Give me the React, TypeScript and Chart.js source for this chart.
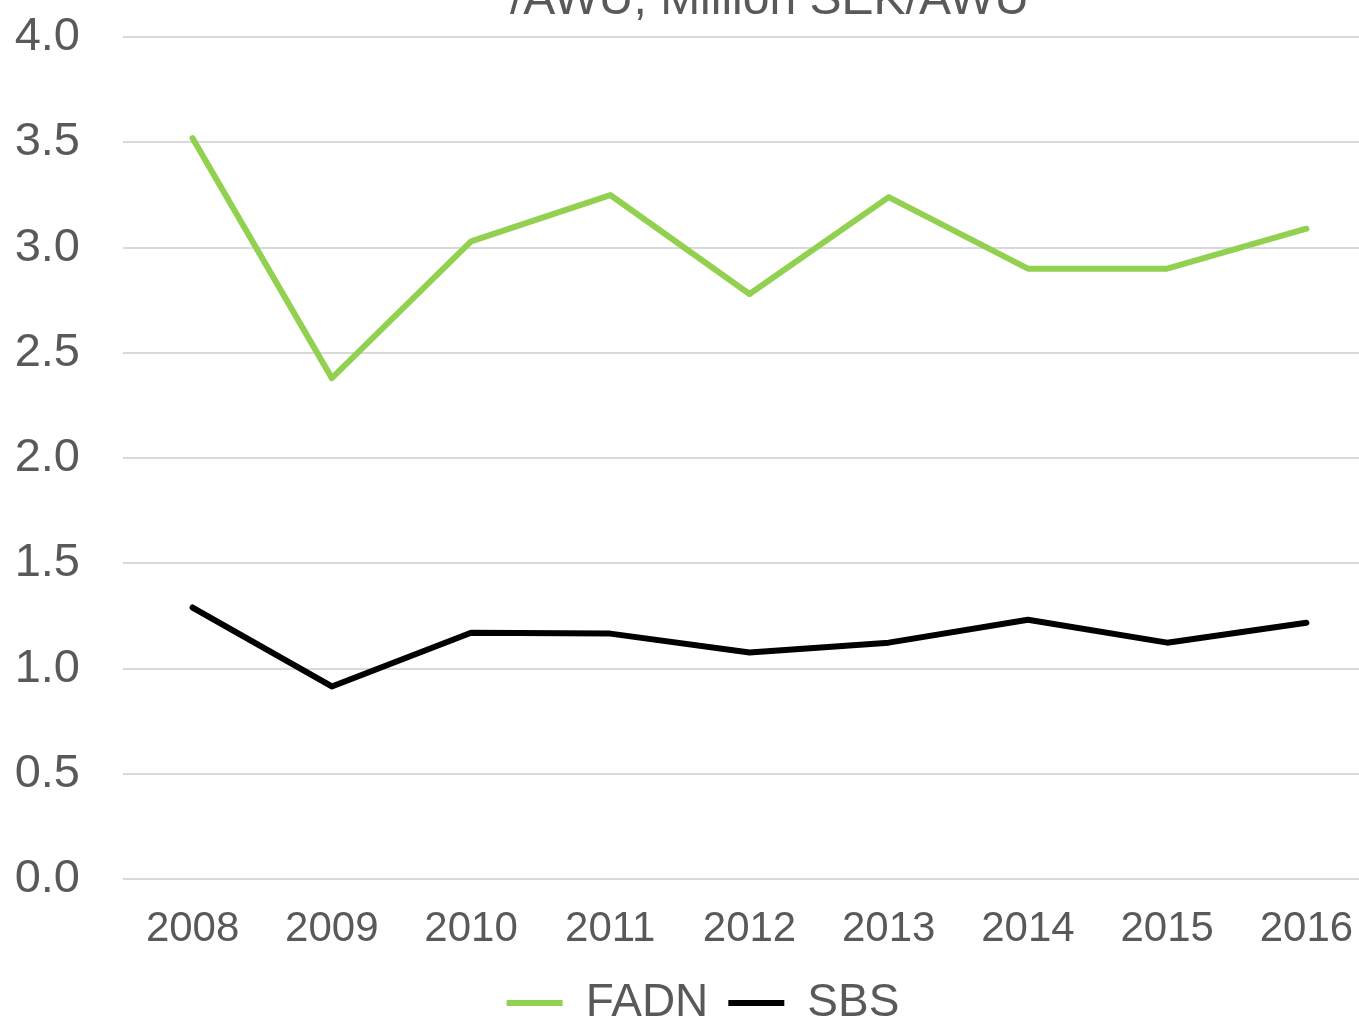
import React, { useEffect, useRef } from "react";
import { Chart, registerables } from "chart.js";

Chart.register(...registerables);

const years = ["2008", "2009", "2010", "2011", "2012", "2013", "2014", "2015", "2016"];
const fadn = [3.52, 2.38, 3.03, 3.25, 2.78, 3.24, 2.9, 2.9, 3.09];
const sbs = [1.29, 0.915, 1.17, 1.166, 1.076, 1.123, 1.232, 1.123, 1.218];
const titleText = "   /AWU, Million SEK/AWU";

const FONT = "'Liberation Sans', Arial, sans-serif";
const GREY = "#595959";
const CW = 1406;
const CH = 1070;
const TOP = -34;

export default function App() {
  const ref = useRef<HTMLCanvasElement | null>(null);
  useEffect(() => {
    if (!ref.current) return;
    const chart = new Chart(ref.current, {
      type: "line",
      data: {
        labels: years,
        datasets: [
          {
            label: "FADN",
            data: fadn,
            borderColor: "#92d050",
            backgroundColor: "#92d050",
            borderWidth: 6,
            pointRadius: 0,
            borderCapStyle: "round",
            borderJoinStyle: "round",
            tension: 0,
          },
          {
            label: "SBS",
            data: sbs,
            borderColor: "#000000",
            backgroundColor: "#000000",
            borderWidth: 6,
            pointRadius: 0,
            borderCapStyle: "round",
            borderJoinStyle: "round",
            tension: 0,
          },
        ],
      },
      options: {
        responsive: false,
        animation: false,
        devicePixelRatio: 1,
        layout: { padding: { left: 0, right: 0, top: 0, bottom: 0 } },
        plugins: {
          title: {
            display: true,
            text: titleText,
            fullSize: false,
            color: GREY,
            font: { family: FONT, size: 48, weight: "normal", lineHeight: 1.2 },
            padding: { top: 4, bottom: 8 },
          },
          legend: {
            display: true,
            position: "bottom",
            labels: {
              usePointStyle: true,
              pointStyle: "line",
              pointStyleWidth: 56,
              color: GREY,
              padding: 20,
              font: { family: FONT, size: 46 },
            },
          },
          tooltip: { enabled: false },
        },
        scales: {
          x: {
            offset: true,
            grid: { display: false, drawTicks: false },
            border: { display: false },
            ticks: {
              color: GREY,
              padding: 25,
              maxRotation: 0,
              font: { family: FONT, size: 42 },
            },
            afterFit: (s: any) => {
              s.height = 81;
            },
          },
          y: {
            min: 0,
            max: 4,
            grid: { color: "#d9d9d9", lineWidth: 2, drawTicks: false },
            border: { display: false },
            ticks: {
              stepSize: 0.5,
              color: GREY,
              padding: 43,
              font: { family: FONT, size: 47 },
              callback: (v: any) => Number(v).toFixed(1),
            },
            afterFit: (s: any) => {
              s.width = 123;
            },
          },
          pad: {
            type: "linear",
            position: "right",
            display: true,
            grid: { display: false, drawTicks: false },
            border: { display: false },
            ticks: { display: false },
            afterFit: (s: any) => {
              s.width = 30;
            },
          },
        },
      } as any,
    });
    return () => chart.destroy();
  }, []);

  return (
    <div
      style={{
        position: "fixed",
        left: 0,
        top: 0,
        width: 1359,
        height: 1024,
        overflow: "hidden",
        background: "#ffffff",
      }}
    >
      <canvas
        ref={ref}
        width={CW}
        height={CH}
        style={{ position: "absolute", left: 0, top: TOP, width: CW, height: CH }}
      />
    </div>
  );
}
